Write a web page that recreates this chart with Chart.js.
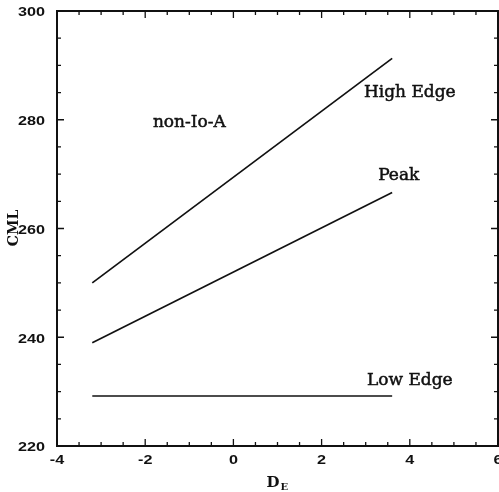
<!DOCTYPE html>
<html>
<head>
<meta charset="utf-8">
<script src="https://cdn.jsdelivr.net/npm/chart.js@4.4.0/dist/chart.umd.min.js"></script>
<style>
  html, body { margin: 0; padding: 0; background: #fff; }
  #wrap { width: 499px; height: 492px; }
</style>
</head>
<body>
<div id="wrap"><canvas id="chart" width="499" height="492"></canvas></div>
<script>
// values
const xEnds = [-3.2, 3.6];
const highEdge = [250, 291.3];
const peak = [239, 266.6];
const lowEdge = [229.2, 229.2];

const xTickLabels = [-4, -2, 0, 2, 4, 6];
const yTickLabels = [220, 240, 260, 280, 300];

// text notes: [text, x, y]
const notes = [
    ['non-Io-A', -1.0, 279.4],
    ['High Edge', 4.0, 285],
    ['Peak', 3.75, 269.8],
    ['Low Edge', 4.0, 232]
];

function toPoints(ys) {
    return xEnds.map((x, i) => ({ x: x, y: ys[i] }));
}

function lineSet(label, ys) {
    return {
        label: label,
        data: toPoints(ys),
        borderColor: '#111',
        borderWidth: 1.7,
        pointRadius: 0,
        showLine: true,
        fill: false
    };
}

// wide, squat bold digits like the scanned figure
function wideText(ctx, txt, x, y, align) {
    ctx.save();
    ctx.translate(x, y);
    ctx.scale(1.35, 1);
    ctx.textAlign = align;
    ctx.fillText(txt, 0, 0);
    ctx.restore();
}

const frame = {
    id: 'frame',
    afterDraw(chart) {
        const ctx = chart.ctx;
        const a = chart.chartArea;
        const xs = chart.scales.x;
        const ys = chart.scales.y;
        ctx.save();
        ctx.strokeStyle = '#111';
        ctx.fillStyle = '#111';

        // box
        ctx.lineWidth = 2;
        ctx.strokeRect(a.left, a.top, a.right - a.left, a.bottom - a.top);

        // inward ticks
        ctx.lineWidth = 1.3;
        ctx.beginPath();
        for (const t of xs.ticks) {
            const px = xs.getPixelForValue(t.value);
            const len = xTickLabels.includes(t.value) ? 7 : 4;
            ctx.moveTo(px, a.bottom); ctx.lineTo(px, a.bottom - len);
            ctx.moveTo(px, a.top); ctx.lineTo(px, a.top + len);
        }
        for (const t of ys.ticks) {
            const py = ys.getPixelForValue(t.value);
            const len = yTickLabels.includes(t.value) ? 7 : 4;
            ctx.moveTo(a.left, py); ctx.lineTo(a.left + len, py);
            ctx.moveTo(a.right, py); ctx.lineTo(a.right - len, py);
        }
        ctx.stroke();

        // tick labels
        ctx.font = 'bold 12px "Liberation Sans"';
        ctx.textBaseline = 'middle';
        for (const v of xTickLabels) {
            wideText(ctx, String(v), xs.getPixelForValue(v), a.bottom + 15, 'center');
        }
        for (const v of yTickLabels) {
            wideText(ctx, String(v), a.left - 12, ys.getPixelForValue(v) + 2, 'right');
        }

        // notes
        ctx.font = '17px "DejaVu Serif"';
        ctx.textAlign = 'center';
        ctx.textBaseline = 'middle';
        ctx.lineWidth = 0.5;
        for (const n of notes) {
            const px = xs.getPixelForValue(n[1]);
            const py = ys.getPixelForValue(n[2]);
            ctx.fillText(n[0], px, py);
            ctx.strokeText(n[0], px, py);
        }

        // x title with subscript
        const cx = (a.left + a.right) / 2;
        ctx.font = 'bold 15px "DejaVu Serif"';
        ctx.textAlign = 'right';
        ctx.textBaseline = 'alphabetic';
        ctx.fillText('D', cx + 2, 487);
        ctx.font = 'bold 10px "DejaVu Serif"';
        ctx.textAlign = 'left';
        ctx.fillText('E', cx + 3, 490);

        // y title
        ctx.translate(14, 228);
        ctx.rotate(-Math.PI / 2);
        ctx.font = 'bold 14px "DejaVu Serif"';
        ctx.textAlign = 'center';
        ctx.textBaseline = 'middle';
        ctx.fillText('CML', 0, 0);
        ctx.restore();
    }
};

new Chart(document.getElementById('chart'), {
    type: 'scatter',
    data: {
        datasets: [
            lineSet('High Edge', highEdge),
            lineSet('Peak', peak),
            lineSet('Low Edge', lowEdge)
        ]
    },
    options: {
        responsive: false,
        animation: false,
        layout: { padding: { top: 11, right: 1, left: 0, bottom: 0 } },
        plugins: { legend: { display: false }, tooltip: { enabled: false } },
        scales: {
            x: {
                type: 'linear',
                min: -4, max: 6,
                grid: { display: false },
                border: { display: false },
                afterFit(s) { s.height = 46; },
                ticks: { stepSize: 0.5, autoSkip: false, display: false }
            },
            y: {
                type: 'linear',
                min: 220, max: 300,
                grid: { display: false },
                border: { display: false },
                afterFit(s) { s.width = 57; },
                ticks: { stepSize: 5, autoSkip: false, display: false }
            }
        }
    },
    plugins: [frame]
});
</script>
</body>
</html>
